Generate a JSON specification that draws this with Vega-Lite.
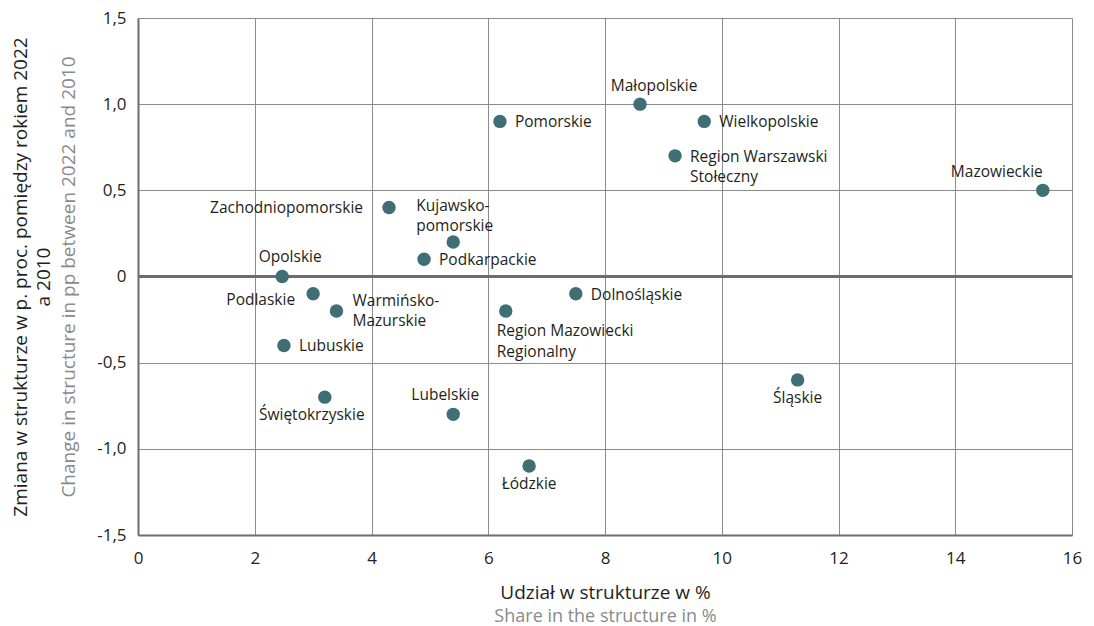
{
  "$schema": "https://vega.github.io/schema/vega-lite/v6.json",
  "width": 934,
  "height": 517,
  "autosize": "none",
  "padding": {"left": 138, "top": 18, "right": 22, "bottom": 91},
  "background": "white",
  "config": {
    "view": {"stroke": null},
    "font": "Open Sans",
    "text": {"font": "Open Sans", "fontSize": 15.5, "color": "#231f20"}
  },
  "data": {
    "values": [
      {"name": "Małopolskie", "label": "Małopolskie", "x": 8.6, "y": 1.0},
      {"name": "Pomorskie", "label": "Pomorskie", "x": 6.2, "y": 0.9},
      {"name": "Wielkopolskie", "label": "Wielkopolskie", "x": 9.7, "y": 0.9},
      {"name": "Region Warszawski Stołeczny", "label": "Region Warszawski\nStołeczny", "x": 9.2, "y": 0.7},
      {"name": "Mazowieckie", "label": "Mazowieckie", "x": 15.5, "y": 0.5},
      {"name": "Zachodniopomorskie", "label": "Zachodniopomorskie", "x": 4.3, "y": 0.4},
      {"name": "Kujawsko-pomorskie", "label": "Kujawsko-\npomorskie", "x": 5.4, "y": 0.2},
      {"name": "Podkarpackie", "label": "Podkarpackie", "x": 4.9, "y": 0.1},
      {"name": "Opolskie", "label": "Opolskie", "x": 2.47, "y": 0.0},
      {"name": "Podlaskie", "label": "Podlaskie", "x": 3.0, "y": -0.1},
      {"name": "Warmińsko-Mazurskie", "label": "Warmińsko-\nMazurskie", "x": 3.4, "y": -0.2},
      {"name": "Region Mazowiecki Regionalny", "label": "Region Mazowiecki\nRegionalny", "x": 6.3, "y": -0.2},
      {"name": "Dolnośląskie", "label": "Dolnośląskie", "x": 7.5, "y": -0.1},
      {"name": "Lubuskie", "label": "Lubuskie", "x": 2.5, "y": -0.4},
      {"name": "Świętokrzyskie", "label": "Świętokrzyskie", "x": 3.2, "y": -0.7},
      {"name": "Lubelskie", "label": "Lubelskie", "x": 5.4, "y": -0.8},
      {"name": "Łódzkie", "label": "Łódzkie", "x": 6.7, "y": -1.1},
      {"name": "Śląskie", "label": "Śląskie", "x": 11.3, "y": -0.6}
    ]
  },
  "layer": [
    {
      "encoding": {
        "x": {
          "field": "x", "type": "quantitative",
          "scale": {"domain": [0, 16], "nice": false, "zero": false},
          "axis": {
            "orient": "bottom",
            "values": [0, 2, 4, 6, 8, 10, 12, 14, 16],
            "labelFlush": false,
            "grid": true, "gridColor": "#8c8c8c", "gridWidth": 1,
            "domainColor": "#6d6d6d", "domainWidth": 2,
            "ticks": false,
            "labelFontSize": 17, "labelColor": "#231f20", "labelPadding": 15,
            "labelFont": "Open Sans",
            "title": "Udział w strukturze w %",
            "titleFont": "Open Sans", "titleFontSize": 19, "titleFontWeight": "normal",
            "titleColor": "#231f20", "titlePadding": 17
          }
        },
        "y": {
          "field": "y", "type": "quantitative",
          "scale": {"domain": [-1.5, 1.5], "nice": false, "zero": false},
          "axis": {
            "orient": "left",
            "values": [-1.5, -1, -0.5, 0, 0.5, 1, 1.5],
            "labelFlush": false,
            "labelExpr": "datum.value == 0 ? '0' : (datum.value < 0 ? '-' : '') + replace(format(abs(datum.value), '.1f'), '.', ',')",
            "grid": true, "gridColor": "#8c8c8c", "gridWidth": 1,
            "domainColor": "#6d6d6d", "domainWidth": 2,
            "ticks": false,
            "labelFontSize": 17, "labelColor": "#231f20", "labelPadding": 12,
            "labelFont": "Open Sans",
            "title": "Change in structure in pp between 2022 and 2010",
            "titleFont": "Open Sans", "titleFontSize": 19, "titleFontWeight": "normal",
            "titleColor": "#8a8a8a", "titlePadding": 18
          }
        }
      },
      "layer": [
        {
          "mark": {"type": "rule", "color": "#6d6d6d", "strokeWidth": 2},
          "encoding": {"y": {"datum": 0}, "x": {"value": 0}, "x2": {"value": 934}}
        },
        {
          "mark": {"type": "circle", "size": 180, "color": "#3f6e74", "opacity": 1}
        },
        {
          "transform": [{"filter": {"field": "name", "oneOf": ["Pomorskie", "Wielkopolskie", "Podkarpackie", "Lubuskie", "Dolnośląskie"]}}],
          "mark": {"type": "text", "align": "left", "baseline": "middle", "dx": 15, "dy": 1},
          "encoding": {"text": {"field": "label"}}
        },
        {
          "transform": [{"filter": {"field": "name", "equal": "Warmińsko-Mazurskie"}}],
          "mark": {"type": "text", "align": "left", "baseline": "middle", "dx": 16, "dy": -10, "lineBreak": "\n", "lineHeight": 20},
          "encoding": {"text": {"field": "label"}}
        },
        {
          "transform": [{"filter": {"field": "name", "equal": "Region Warszawski Stołeczny"}}],
          "mark": {"type": "text", "align": "left", "baseline": "middle", "dx": 15, "dy": 1, "lineBreak": "\n", "lineHeight": 20},
          "encoding": {"text": {"field": "label"}}
        },
        {
          "transform": [{"filter": {"field": "name", "equal": "Kujawsko-pomorskie"}}],
          "mark": {"type": "text", "align": "left", "baseline": "bottom", "dx": -37, "dy": -28, "lineBreak": "\n", "lineHeight": 20},
          "encoding": {"text": {"field": "label"}}
        },
        {
          "transform": [{"filter": {"field": "name", "equal": "Region Mazowiecki Regionalny"}}],
          "mark": {"type": "text", "align": "left", "baseline": "top", "dx": -9, "dy": 13, "lineBreak": "\n", "lineHeight": 21},
          "encoding": {"text": {"field": "label"}}
        },
        {
          "transform": [{"filter": {"field": "name", "equal": "Zachodniopomorskie"}}],
          "mark": {"type": "text", "align": "right", "baseline": "middle", "dx": -26, "dy": 0},
          "encoding": {"text": {"field": "label"}}
        },
        {
          "transform": [{"filter": {"field": "name", "equal": "Podlaskie"}}],
          "mark": {"type": "text", "align": "right", "baseline": "middle", "dx": -18, "dy": 6},
          "encoding": {"text": {"field": "label"}}
        },
        {
          "transform": [{"filter": {"field": "name", "oneOf": ["Małopolskie"]}}],
          "mark": {"type": "text", "align": "center", "baseline": "bottom", "dx": 14, "dy": -10},
          "encoding": {"text": {"field": "label"}}
        },
        {
          "transform": [{"filter": {"field": "name", "oneOf": ["Opolskie"]}}],
          "mark": {"type": "text", "align": "center", "baseline": "bottom", "dx": 8, "dy": -12},
          "encoding": {"text": {"field": "label"}}
        },
        {
          "transform": [{"filter": {"field": "name", "oneOf": ["Lubelskie"]}}],
          "mark": {"type": "text", "align": "center", "baseline": "bottom", "dx": -8, "dy": -11},
          "encoding": {"text": {"field": "label"}}
        },
        {
          "transform": [{"filter": {"field": "name", "equal": "Mazowieckie"}}],
          "mark": {"type": "text", "align": "right", "baseline": "bottom", "dx": 0, "dy": -10},
          "encoding": {"text": {"field": "label"}}
        },
        {
          "transform": [{"filter": {"field": "name", "equal": "Świętokrzyskie"}}],
          "mark": {"type": "text", "align": "center", "baseline": "top", "dx": -13, "dy": 11},
          "encoding": {"text": {"field": "label"}}
        },
        {
          "transform": [{"filter": {"field": "name", "oneOf": ["Łódzkie", "Śląskie"]}}],
          "mark": {"type": "text", "align": "center", "baseline": "top", "dx": 0, "dy": 11},
          "encoding": {"text": {"field": "label"}}
        }
      ]
    },
    {
      "mark": {"type": "point", "opacity": 0},
      "encoding": {
        "x": {
          "field": "x", "type": "quantitative",
          "scale": {"domain": [0, 16], "nice": false, "zero": false},
          "axis": {
            "orient": "bottom", "grid": false, "domain": false, "labels": false, "ticks": false,
            "title": "Share in the structure in %",
            "titleFont": "Open Sans", "titleFontSize": 18, "titleFontWeight": "normal",
            "titleColor": "#8a8a8a", "titlePadding": 72
          }
        },
        "y": {
          "field": "y", "type": "quantitative",
          "scale": {"domain": [-1.5, 1.5], "nice": false, "zero": false},
          "axis": {
            "orient": "left", "grid": false, "domain": false, "labels": false, "ticks": false,
            "title": ["Zmiana w strukturze w p. proc. pomiędzy rokiem 2022", "a 2010"],
            "titleFont": "Open Sans", "titleFontSize": 19, "titleFontWeight": "normal",
            "titleColor": "#231f20", "titlePadding": 85, "titleLineHeight": 23
          }
        }
      }
    }
  ],
  "resolve": {"scale": {"x": "independent", "y": "independent"}}
}
